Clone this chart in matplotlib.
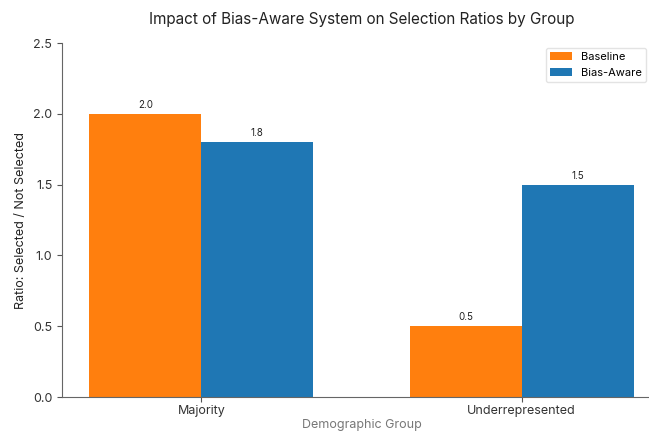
import matplotlib.pyplot as plt
import numpy as np

plt.rcParams['font.family'] = ['Inter', 'DejaVu Sans']

groups = ['Majority', 'Underrepresented']
baseline = [2.0, 0.5]
bias_aware = [1.8, 1.5]

fig = plt.figure(figsize=(6.49, 4.32), dpi=100)
# axes runs a bit past the right edge, like the reference crop
ax = fig.add_axes([0.0955, 0.081, 0.923, 0.819])

x = np.arange(len(groups))
w = 0.35
b1 = ax.bar(x - w / 2, baseline, w, color='#ff7f0e', label='Baseline')
b2 = ax.bar(x + w / 2, bias_aware, w, color='#1f77b4', label='Bias-Aware')

for bars in (b1, b2):
    for bar in bars:
        h = bar.get_height()
        ax.annotate(f'{h:.1f}', (bar.get_x() + bar.get_width() / 2, h),
                    xytext=(0, 3), textcoords='offset points',
                    ha='center', va='bottom', fontsize=7, color='#222222')

ax.set_xticks(x)
ax.set_xticklabels(groups, fontsize=9, color='#333333')
ax.set_ylim(0, 2.5)
ax.set_yticks([0, 0.5, 1.0, 1.5, 2.0, 2.5])
ax.tick_params(axis='y', labelsize=9, colors='#333333')
ax.tick_params(axis='x', pad=2)
ax.tick_params(axis='both', color='#555555')
ax.spines['top'].set_visible(False)
ax.spines['right'].set_visible(False)
ax.spines['left'].set_color('#666666')
ax.spines['bottom'].set_color('#666666')

ax.set_xlabel('Demographic Group', fontsize=9, color='#777777', labelpad=2)
ax.set_ylabel('Ratio: Selected / Not Selected', fontsize=9, color='#222222')
ax.set_title('Impact of Bias-Aware System on Selection Ratios by Group', fontsize=11, pad=14, color='#222222')

leg = ax.legend(loc='upper right', fontsize=8, frameon=True,
                bbox_to_anchor=(0.983, 1.0), borderaxespad=0.4)
leg.get_frame().set_edgecolor('#dddddd')

fig.savefig('out.png', dpi=100)
